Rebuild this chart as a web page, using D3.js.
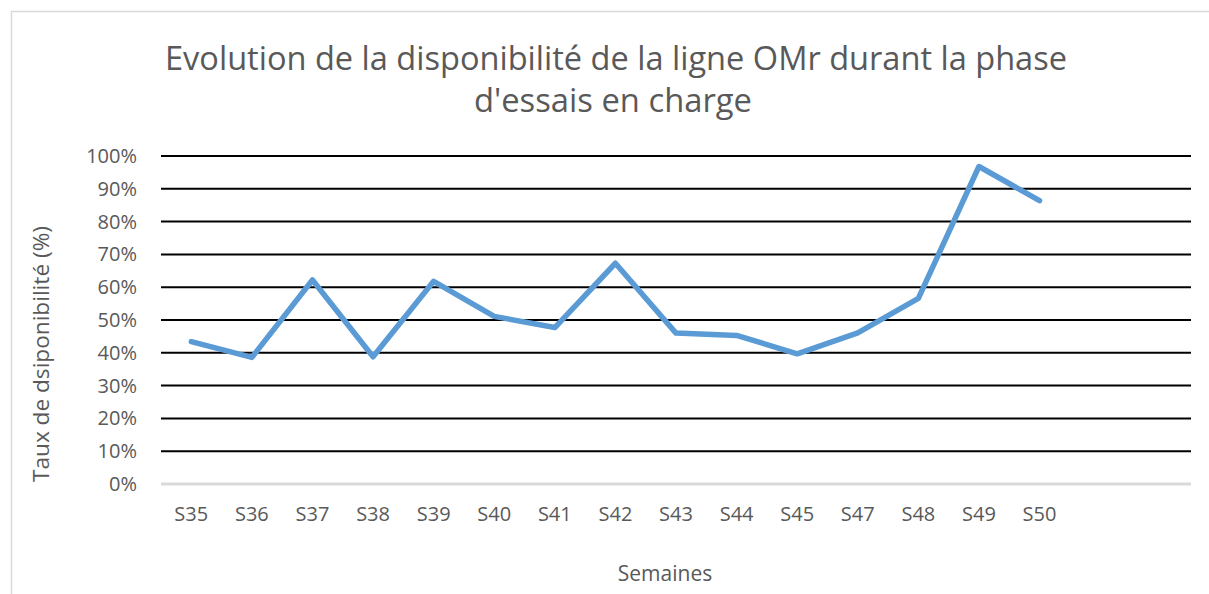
<!DOCTYPE html>
<html>
<head>
<meta charset="utf-8">
<script src="https://cdn.jsdelivr.net/npm/d3@7"></script>
<style>
  html, body { margin: 0; padding: 0; background: #fff; }
  svg { display: block; }
  text { font-family: "Open Sans", sans-serif; fill: #595959; }
</style>
</head>
<body>
<svg id="chart" width="1209" height="594"></svg>
<script>
// Weekly availability of the OMr line during the load-test phase
const categories = ["S35","S36","S37","S38","S39","S40","S41","S42","S43","S44","S45","S47","S48","S49","S50"];
const availability = [43.4, 38.6, 62.2, 38.8, 61.8, 51.1, 47.7, 67.3, 46.0, 45.3, 39.7, 46.1, 56.6, 96.8, 86.4];
const yTicks = [0, 10, 20, 30, 40, 50, 60, 70, 80, 90, 100];
const titleLines = ["Evolution de la disponibilité de la ligne OMr durant la phase", "d'essais en charge"];
const xTitle = "Semaines";
const yTitle = "Taux de dsiponibilité (%)";
const slotCount = 17; // the category axis keeps two empty weeks at the end

const svg = d3.select("#chart");
const W = 1209, H = 594;
const plot = { left: 161, right: 1191, top: 156, bottom: 484 };

// outer chart frame
svg.append("rect")
  .attr("x", 11.5).attr("y", 11.5)
  .attr("width", W + 20).attr("height", H + 20)
  .attr("fill", "#fff").attr("stroke", "#d9d9d9").attr("stroke-width", 1.5);

const x = d3.scaleBand()
  .domain(d3.range(slotCount))
  .range([plot.left, plot.right]);

const y = d3.scaleLinear()
  .domain([0, 100])
  .range([plot.bottom, plot.top]);

// horizontal gridlines
svg.append("g")
  .selectAll("line")
  .data(yTicks.filter(t => t > 0))
  .join("line")
  .attr("x1", plot.left).attr("x2", plot.right)
  .attr("y1", d => y(d)).attr("y2", d => y(d))
  .attr("stroke", "#000").attr("stroke-width", 2);

// category axis baseline
svg.append("line")
  .attr("x1", plot.left).attr("x2", plot.right)
  .attr("y1", y(0)).attr("y2", y(0))
  .attr("stroke", "#d9d9d9").attr("stroke-width", 3);

// value axis labels
const yAxis = d3.axisLeft(y)
  .tickValues(yTicks)
  .tickFormat(d => d + "%")
  .tickSize(0)
  .tickPadding(0);
const gy = svg.append("g")
  .attr("transform", `translate(137,0)`)
  .call(yAxis);
gy.select(".domain").remove();
gy.selectAll("text")
  .attr("font-size", 20)
  .attr("font-family", "Open Sans, sans-serif")
  .attr("fill", "#595959");

// category axis labels
const xAxis = d3.axisBottom(x)
  .tickFormat(i => categories[i] || "")
  .tickSize(0)
  .tickPadding(0);
const gx = svg.append("g")
  .attr("transform", `translate(0,${y(0)})`)
  .call(xAxis);
gx.select(".domain").remove();
gx.selectAll("text")
  .attr("y", 23)
  .attr("dy", "0.71em")
  .attr("font-size", 20)
  .attr("font-family", "Open Sans, sans-serif")
  .attr("fill", "#595959");

// availability line
const line = d3.line()
  .x((d, i) => x(i) + x.bandwidth() / 2)
  .y(d => y(d));
svg.append("path")
  .datum(availability)
  .attr("d", line)
  .attr("fill", "none")
  .attr("stroke", "#5b9bd5")
  .attr("stroke-width", 5.5)
  .attr("stroke-linejoin", "round")
  .attr("stroke-linecap", "round");

// title
const title = svg.append("text")
  .attr("text-anchor", "middle")
  .attr("font-size", 32);
title.append("tspan").attr("x", 616).attr("y", 70).text(titleLines[0])
  .attr("textLength", 902).attr("lengthAdjust", "spacingAndGlyphs");
title.append("tspan").attr("x", 613).attr("y", 112).text(titleLines[1])
  .attr("textLength", 278).attr("lengthAdjust", "spacingAndGlyphs");

// axis titles
svg.append("text")
  .attr("x", 665).attr("y", 581)
  .attr("text-anchor", "middle")
  .attr("font-size", 21)
  .text(xTitle);

svg.append("text")
  .attr("transform", "translate(49,354) rotate(-90)")
  .attr("text-anchor", "middle")
  .attr("font-size", 22)
  .attr("textLength", 256).attr("lengthAdjust", "spacingAndGlyphs")
  .text(yTitle);
</script>
</body>
</html>
